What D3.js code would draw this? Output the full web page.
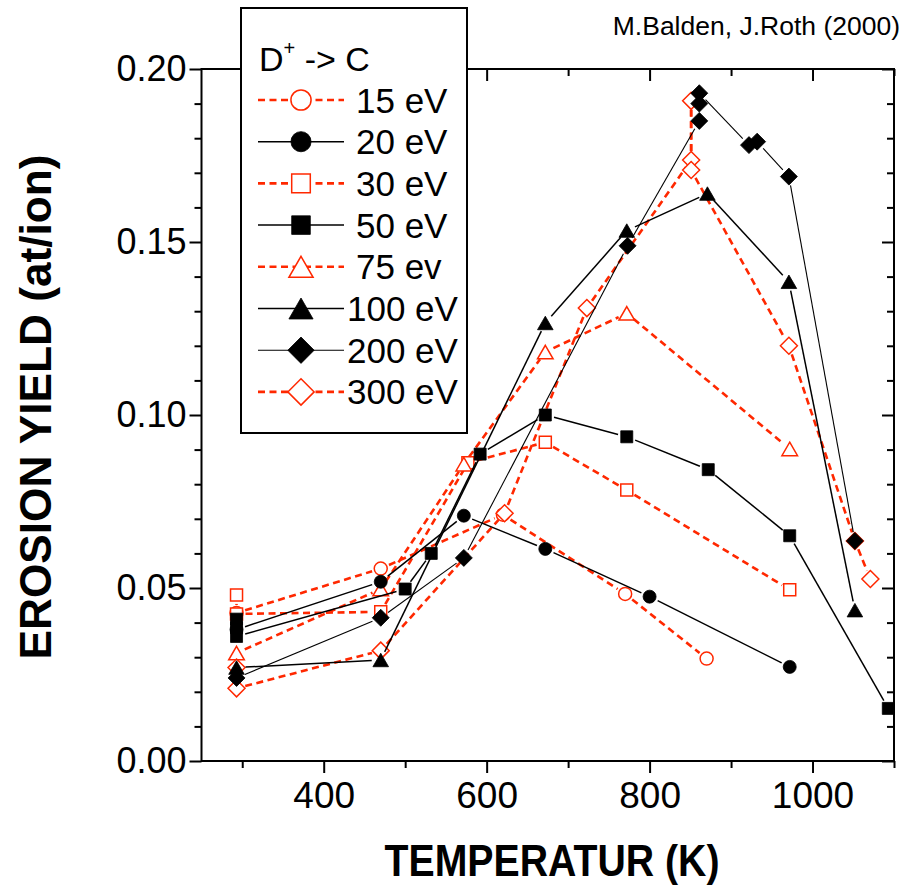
<!DOCTYPE html>
<html>
<head>
<meta charset="utf-8">
<script src="https://cdn.jsdelivr.net/npm/d3@7"></script>
<style>
  body { margin: 0; background: #fff; }
  text { font-family: 'Liberation Sans', Arial, sans-serif; }
</style>
</head>
<body>
<script>
// series labels as in the legend
const energyLabels = ['15 eV', '20 eV', '30 eV', '50 eV', '75 ev', '100 eV', '200 eV', '300 eV'];

// temperature (K) and erosion yield (at/ion)
const t15 = [293, 470, 620, 770, 870];
const y15 = [0.0428, 0.0556, 0.0712, 0.0483, 0.0296];

const t20 = [293, 470, 572, 672, 800, 972];
const y20 = [0.0380, 0.0518, 0.0709, 0.0613, 0.0475, 0.0272];

const t30 = [293, 293, 470, 577, 672, 772, 972];
const y30 = [0.0480, 0.0425, 0.0431, 0.0862, 0.0921, 0.0783, 0.0495];

const t50 = [293, 293, 293, 500, 532, 592, 672, 772, 872, 972, 1093];
const y50 = [0.0410, 0.0385, 0.0360, 0.0497, 0.0600, 0.0887, 0.1000, 0.0937, 0.0842, 0.0651, 0.0152];

const t75 = [293, 470, 572, 672, 772, 972];
const y75 = [0.0312, 0.0497, 0.0858, 0.1182, 0.1294, 0.0902];

const t100 = [293, 470, 672, 772, 871, 971, 1052];
const y100 = [0.0270, 0.0292, 0.1266, 0.1533, 0.1640, 0.1385, 0.0436];

const t200 = [293, 470, 572, 773, 861, 861, 861, 922, 932, 971, 1052];
const y200 = [0.0240, 0.0414, 0.0587, 0.1489, 0.1850, 0.1900, 0.1930, 0.1780, 0.1790, 0.1689, 0.0636];

const t300 = [293, 293, 470, 622, 723, 851, 851, 851, 971, 1052, 1071];
const y300 = [0.0270, 0.0210, 0.0319, 0.0716, 0.1309, 0.1737, 0.1908, 0.1708, 0.1200, 0.0636, 0.0526];

// axis ticks
const yMajor = [0, 0.05, 0.10, 0.15, 0.20];
const yMinor = [0.01, 0.02, 0.03, 0.04, 0.06, 0.07, 0.08, 0.09, 0.11, 0.12, 0.13, 0.14, 0.16, 0.17, 0.18, 0.19];
const xMajor = [400, 600, 800, 1000];
const xMinor = [300, 500, 700, 900, 1100];

const red = '#ff2800';
const styles = [
  { color: red, dashed: true, shape: 'circle', filled: false },
  { color: '#000', dashed: false, shape: 'circle', filled: true },
  { color: red, dashed: true, shape: 'square', filled: false },
  { color: '#000', dashed: false, shape: 'square', filled: true },
  { color: red, dashed: true, shape: 'triangle', filled: false },
  { color: '#000', dashed: false, shape: 'triangle', filled: true },
  { color: '#000', dashed: false, shape: 'diamond', filled: true, thin: true },
  { color: red, dashed: true, shape: 'diamond', filled: false },
];

const temps = [t15, t20, t30, t50, t75, t100, t200, t300];
const yields = [y15, y20, y30, y50, y75, y100, y200, y300];
const series = energyLabels.map((label, i) => ({
  label,
  style: styles[i],
  points: temps[i].map((t, j) => ({ t, v: yields[i][j] })),
}));

const width = 906;
const height = 886;
const svg = d3.select('body').append('svg').attr('width', width).attr('height', height);

const x = d3.scaleLinear().domain([250, 1100]).range([201.5, 894]);
const y = d3.scaleLinear().domain([0, 0.2]).range([761, 69]);

function markerPath(shape, s) {
  if (shape === 'circle') {
    const r = 6.5 * s;
    return `M${-r},0a${r},${r} 0 1,0 ${2 * r},0a${r},${r} 0 1,0 ${-2 * r},0Z`;
  }
  if (shape === 'square') {
    const h = 6 * s;
    return `M${-h},${-h}H${h}V${h}H${-h}Z`;
  }
  if (shape === 'triangle') {
    const a = 7.8 * s;
    const h = a * 1.732 / 2;
    return `M0,${-h}L${a},${h}L${-a},${h}Z`;
  }
  const d = 8.5 * s;
  return `M0,${-d}L${d},0L0,${d}L${-d},0Z`;
}

function styleMarker(sel, st) {
  sel
    .attr('fill', st.filled ? st.color : '#fff')
    .attr('stroke', st.color)
    .attr('stroke-width', st.filled ? 0.8 : 1.5);
}

function styleLine(sel, st) {
  sel
    .attr('stroke', st.color)
    .attr('fill', 'none')
    .attr('stroke-width', st.dashed ? 2.6 : st.thin ? 1.1 : 1.5)
    .attr('stroke-dasharray', st.dashed ? '7,4.5' : null);
}

// axes
const axisG = svg.append('g');

function drawAxis(axis, tx, ty, labels) {
  const g = axisG.append('g').attr('transform', `translate(${tx},${ty})`).call(axis);
  g.select('.domain').remove();
  g.selectAll('.tick line').attr('stroke', '#000').attr('stroke-width', 2);
  g.selectAll('.tick text')
    .attr('fill', '#000')
    .style('font-family', "'Liberation Sans', Arial, sans-serif")
    .style('font-size', labels ? '36px' : '0px');
  return g;
}

const fmt = d3.format('.2f');
drawAxis(d3.axisLeft(y).tickValues(yMajor).tickSize(12).tickPadding(3).tickFormat(fmt), 201.5, 0, true);
drawAxis(d3.axisLeft(y).tickValues(yMinor).tickSize(7).tickFormat(''), 201.5, 0, false);
drawAxis(d3.axisRight(y).tickValues(yMajor).tickSize(-12).tickFormat(''), 894, 0, false);
drawAxis(d3.axisRight(y).tickValues(yMinor).tickSize(-7).tickFormat(''), 894, 0, false);
drawAxis(d3.axisBottom(x).tickValues(xMajor).tickSize(12).tickPadding(9).tickFormat(d3.format('d')), 0, 761, true)
  .selectAll('.tick text').style('font-size', '37px');
drawAxis(d3.axisBottom(x).tickValues(xMinor).tickSize(7).tickFormat(''), 0, 761, false);
drawAxis(d3.axisTop(x).tickValues(xMajor).tickSize(-12).tickFormat(''), 0, 69, false);
drawAxis(d3.axisTop(x).tickValues(xMinor).tickSize(-7).tickFormat(''), 0, 69, false);

svg.append('rect')
  .attr('x', 201.5).attr('y', 69)
  .attr('width', 894 - 201.5).attr('height', 761 - 69)
  .attr('fill', 'none').attr('stroke', '#000').attr('stroke-width', 2);

// series: red ones first, black ones on top
const drawOrder = [0, 2, 4, 7, 1, 3, 5, 6];
const gap = 9;
const plot = svg.append('g');

drawOrder.forEach((i) => {
  const s = series[i];
  const g = plot.append('g');
  const px = s.points.map((p) => [x(p.t), y(p.v)]);
  // segments with a small gap to the symbols
  const segs = [];
  for (let k = 1; k < px.length; k++) {
    const [x0, y0] = px[k - 1];
    const [x1, y1] = px[k];
    const len = Math.hypot(x1 - x0, y1 - y0);
    if (len <= 2 * gap) continue;
    const ux = (x1 - x0) / len;
    const uy = (y1 - y0) / len;
    segs.push([[x0 + ux * gap, y0 + uy * gap], [x1 - ux * gap, y1 - uy * gap]]);
  }
  g.selectAll('path.seg')
    .data(segs)
    .enter()
    .append('path')
    .attr('class', 'seg')
    .attr('d', d3.line())
    .call(styleLine, s.style);

  g.selectAll('path.mk')
    .data(s.points)
    .enter()
    .append('path')
    .attr('class', 'mk')
    .attr('transform', (d) => `translate(${x(d.t)},${y(d.v)})`)
    .attr('d', markerPath(s.style.shape, 1))
    .call(styleMarker, s.style);
});

// legend
const legend = svg.append('g');
legend.append('rect')
  .attr('x', 241).attr('y', 8).attr('width', 226).attr('height', 425)
  .attr('fill', '#fff').attr('stroke', '#000').attr('stroke-width', 2);

const title = legend.append('text').attr('x', 259).attr('y', 71).style('font-size', '34px');
title.append('tspan').text('D');
title.append('tspan').attr('dy', -16).style('font-size', '20px').text('+');
title.append('tspan').attr('dy', 16).text(' -> C');

const rowY = (i) => 100 + i * 41.7;
series.forEach((s, i) => {
  const yy = rowY(i);
  legend.append('path')
    .attr('d', d3.line()([[258, yy], [344, yy]]))
    .call(styleLine, s.style);
  legend.append('path')
    .attr('transform', `translate(301,${yy})`)
    .attr('d', markerPath(s.style.shape, 1.55))
    .call(styleMarker, s.style);
  legend.append('text')
    .attr('x', s.label.length > 5 ? 347 : 356)
    .attr('y', yy + 12.5)
    .style('font-size', '35px')
    .text(s.label);
});

// axis titles
svg.append('text')
  .attr('x', 552).attr('y', 876)
  .attr('text-anchor', 'middle')
  .attr('textLength', 335).attr('lengthAdjust', 'spacingAndGlyphs')
  .style('font-size', '45px').style('font-weight', 'bold')
  .text('TEMPERATUR (K)');

svg.append('text')
  .attr('transform', 'translate(51,407) rotate(-90)')
  .attr('text-anchor', 'middle')
  .attr('textLength', 505).attr('lengthAdjust', 'spacingAndGlyphs')
  .style('font-size', '45px').style('font-weight', 'bold')
  .text('EROSION YIELD (at/ion)');

svg.append('text')
  .attr('x', 900).attr('y', 35)
  .attr('text-anchor', 'end')
  .style('font-size', '26.5px')
  .text('M.Balden, J.Roth (2000)');
</script>
</body>
</html>
